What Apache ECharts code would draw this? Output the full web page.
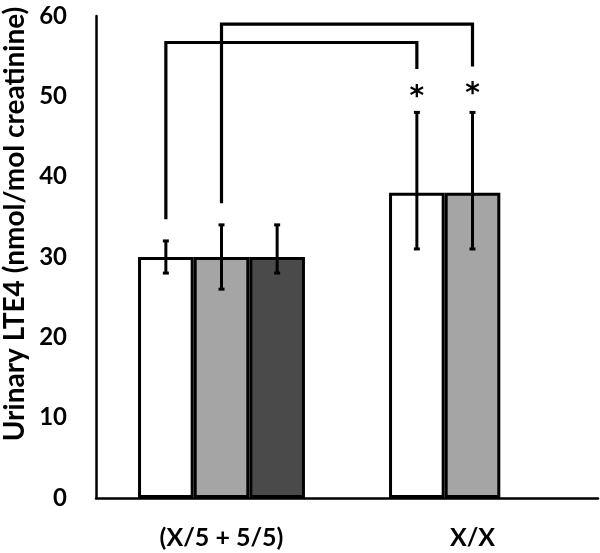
<!DOCTYPE html>
<html><head><meta charset="utf-8">
<script src="https://cdn.jsdelivr.net/npm/echarts@6/dist/echarts.min.js"></script>
<style>html,body{margin:0;padding:0;background:#fff}#c{width:600px;height:553px}</style>
</head><body><div id="c"></div>
<script>
// ---- data ----
const categories = ['(X/5 + 5/5)', 'X/X'];
const seriesA = [30, 38];       // white
const seriesB = [30, 38];       // light gray
const seriesC = [30, null];     // dark gray
// error bars: [categoryIndex, seriesIndex, low, high]
const errorBars = [
  [0, 0, 28, 32],
  [0, 1, 26, 34],
  [0, 2, 28, 34],
  [1, 0, 31, 48],
  [1, 1, 31, 48]
];
// brackets: [fromCat, fromSeries, fromLow, toCat, toSeries, toLow, top]
const brackets = [
  [0, 0, 34.7, 1, 0, 53.4, 56.7],
  [0, 1, 36.7, 1, 1, 53.7, 59.0]
];
// significance marks: [cat, series, value, text]
const marks = [
  [1, 0, 49.8, '*'],
  [1, 1, 50.2, '*']
];
const yTicks = {min: 0, max: 60, interval: 10};
const yName = 'Urinary LTE4 (nmol/mol creatinine)';

const CAT_GAP = 0.335;
const NBARS = 3;
const FONT = 'Lato';

function barX(api, cat, s) {
  const band = api.size([1, 0])[0];
  const w = band * (1 - CAT_GAP) / NBARS;
  const c = api.coord([cat, 0])[0];
  return c + (s - (NBARS - 1) / 2) * w;
}

const chart = echarts.init(document.getElementById('c'), null, {renderer: 'canvas'});
const barStyle = (color) => ({color: color, borderColor: '#000', borderWidth: 3});
chart.setOption({
  animation: false,
  grid: {left: 96, right: 2, top: 16, bottom: 55, containLabel: false},
  xAxis: {
    type: 'category', data: categories,
    axisLine: {lineStyle: {color: '#000', width: 2.5}},
    axisTick: {show: false},
    axisLabel: {color: '#000', fontSize: 25, fontWeight: 'bold', fontFamily: FONT, margin: 27}
  },
  yAxis: {
    type: 'value', min: yTicks.min, max: yTicks.max, interval: yTicks.interval,
    splitLine: {show: false},
    axisLine: {show: true, lineStyle: {color: '#000', width: 2.5}},
    axisTick: {show: false},
    axisLabel: {color: '#000', fontSize: 24, fontWeight: 'bold', fontFamily: FONT, margin: 29}
  },
  graphic: [{
    type: 'text', x: 15, y: 224, rotation: Math.PI / 2,
    style: {text: yName, fill: '#000', font: 'bold 28px ' + FONT, align: 'center', verticalAlign: 'middle'}
  }],
  series: [
    {type: 'bar', data: seriesA, barGap: '0%', barCategoryGap: (CAT_GAP * 100) + '%', itemStyle: barStyle('#ffffff')},
    {type: 'bar', data: seriesB, barGap: '0%', barCategoryGap: (CAT_GAP * 100) + '%', itemStyle: barStyle('#a5a5a5')},
    {type: 'bar', data: seriesC, barGap: '0%', barCategoryGap: (CAT_GAP * 100) + '%', itemStyle: barStyle('#4a4a4a')},
    {
      type: 'custom', data: errorBars, clip: false, z: 5,
      encode: {x: 0, y: [2, 3]},
      renderItem: function (params, api) {
        const x = barX(api, api.value(0), api.value(1));
        const lo = api.coord([api.value(0), api.value(2)])[1];
        const hi = api.coord([api.value(0), api.value(3)])[1];
        const cap = 3;
        const st = {stroke: '#000', lineWidth: 3};
        return {type: 'group', children: [
          {type: 'line', shape: {x1: x, y1: lo, x2: x, y2: hi}, style: st},
          {type: 'line', shape: {x1: x - cap, y1: lo, x2: x + cap, y2: lo}, style: st},
          {type: 'line', shape: {x1: x - cap, y1: hi, x2: x + cap, y2: hi}, style: st}
        ]};
      }
    },
    {
      type: 'custom', data: brackets, clip: false, z: 5,
      encode: {x: 0, y: 6},
      renderItem: function (params, api) {
        const x1 = barX(api, api.value(0), api.value(1));
        const x2 = barX(api, api.value(3), api.value(4));
        const y1 = api.coord([0, api.value(2)])[1];
        const y2 = api.coord([0, api.value(5)])[1];
        const yt = api.coord([0, api.value(6)])[1];
        return {type: 'polyline', shape: {points: [[x1, y1], [x1, yt], [x2, yt], [x2, y2]]},
          style: {stroke: '#000', lineWidth: 3.2, fill: null}};
      }
    },
    {
      type: 'custom', data: marks, clip: false, z: 5,
      encode: {x: 0, y: 2},
      renderItem: function (params, api) {
        const x = barX(api, api.value(0), api.value(1));
        const y = api.coord([0, api.value(2)])[1];
        return {type: 'text', x: x, y: y,
          style: {text: marks[params.dataIndex][3], fill: '#000', font: 'bold 28px "DejaVu Sans"', align: 'center', verticalAlign: 'middle'}};
      }
    }
  ]
});
</script></body></html>
